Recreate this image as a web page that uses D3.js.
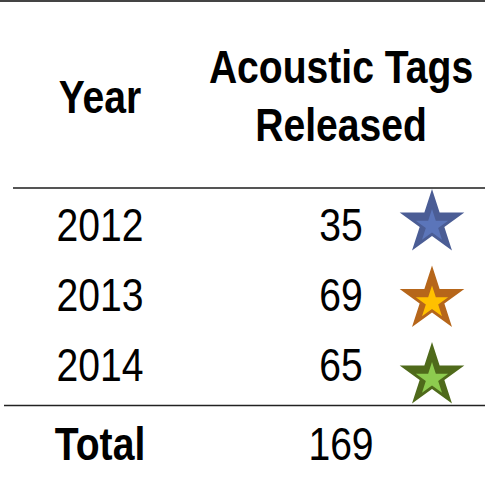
<!DOCTYPE html>
<html>
<head>
<meta charset="utf-8">
<script src="https://cdn.jsdelivr.net/npm/d3@7"></script>
<style>
  html, body { margin: 0; padding: 0; background: #fff; }
  svg { display: block; }
  text { font-family: "Liberation Sans", Arial, sans-serif; fill: #000; }
</style>
</head>
<body>
<svg id="chart" width="485" height="477"></svg>
<script>
const years = ["2012", "2013", "2014"];
const tagsReleased = [35, 69, 65];
const starOuterColors = ["#4b5d95", "#b6661a", "#4f6a1b"];
const starInnerColors = ["#5b75ba", "#ffc000", "#8dcb4f"];
const headerYear = "Year";
const headerTagsLines = ["Acoustic Tags", "Released"];
const totalLabel = "Total";

const W = 485, H = 477;
const svg = d3.select("#chart");

// column scale (centres)
const col = d3.scaleOrdinal().domain(["year", "tags", "star"]).range([100, 341, 432]);
// row baselines
const rowY = d3.scalePoint().domain(years).range([241, 381]);
const starY = d3.scalePoint().domain(years).range([223, 376]);

const fontSize = 46;
const sx = 0.85; // emulate a narrow face

function addText(x, y, str, bold) {
  return svg.append("text")
    .attr("transform", `translate(${x},${y}) scale(${sx},1)`)
    .attr("text-anchor", "middle")
    .attr("font-size", fontSize)
    .attr("font-weight", bold ? "bold" : "normal")
    .text(str);
}

// rules
svg.append("line").attr("x1", 0).attr("x2", W).attr("y1", 1).attr("y2", 1)
  .attr("stroke", "#444").attr("stroke-width", 2);
svg.append("line").attr("x1", 13).attr("x2", W).attr("y1", 188).attr("y2", 188)
  .attr("stroke", "#555").attr("stroke-width", 2);
svg.append("line").attr("x1", 4).attr("x2", W).attr("y1", 405.5).attr("y2", 405.5)
  .attr("stroke", "#222").attr("stroke-width", 1.5);

// header
addText(col("year"), 113, headerYear, true);
headerTagsLines.forEach((t, i) => addText(col("tags"), 83 + i * 58, t, true));

// rows
years.forEach((y, i) => {
  addText(col("year"), rowY(y), y, false);
  addText(col("tags"), rowY(y), String(tagsReleased[i]), false);
});

// stars
function starPath(R) {
  const pts = [];
  const r = R * 0.382;
  for (let k = 0; k < 10; k++) {
    const a = -Math.PI / 2 + k * Math.PI / 5;
    const rr = k % 2 === 0 ? R : r;
    pts.push([rr * Math.cos(a), rr * Math.sin(a)]);
  }
  return d3.line()(pts) + "Z";
}
const stars = svg.selectAll("g.star").data(years).join("g")
  .attr("class", "star")
  .attr("transform", d => `translate(${col("star")},${starY(d)})`);
stars.append("path").attr("d", starPath(34))
  .attr("fill", (d, i) => starOuterColors[i]);
stars.append("path").attr("d", starPath(17)).attr("transform", "translate(0,3)")
  .attr("fill", (d, i) => starInnerColors[i]);

// total
addText(col("year"), 460, totalLabel, true);
addText(col("tags"), 460, String(d3.sum(tagsReleased)), false);
</script>
</body>
</html>
